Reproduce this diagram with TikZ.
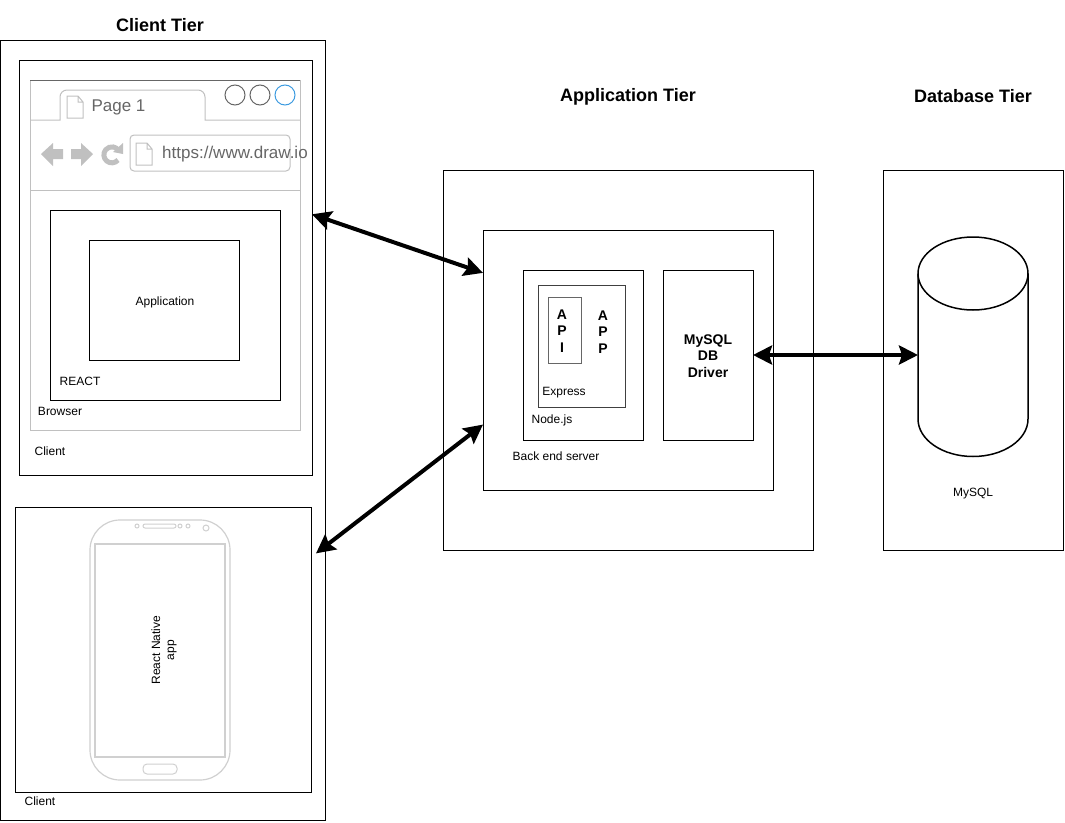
\documentclass[tikz,border=0pt]{standalone}
\usepackage{fontspec}
\setmainfont{Liberation Sans}
\usetikzlibrary{arrows.meta}
\definecolor{sketchgray}{HTML}{C0C0C0}
\definecolor{phonegray}{HTML}{D0D0D0}
\definecolor{tabtext}{HTML}{666666}
\definecolor{urlblue}{HTML}{3D9BE0}
\tikzset{
	box/.style={draw,line width=1pt,inner sep=0pt,outer sep=0pt},
	small/.style={font=\fontsize{12}{14}\selectfont,inner sep=0pt},
	title/.style={font=\fontsize{18}{21}\bfseries\selectfont,inner sep=0pt},
	stack/.style={font=\fontsize{14}{16.5}\bfseries\selectfont,inner sep=0pt,align=center},
	link/.style={line width=4pt,{Stealth[length=19pt,width=19pt,inset=3pt]}-{Stealth[length=19pt,width=19pt,inset=3pt]}},
	sketch/.style={draw=sketchgray,line width=1pt}
}
\begin{document}
\begin{tikzpicture}[x=1pt,y=-1pt]
	\useasboundingbox (0,0) rectangle (1065,822);
	% plain boxes
	\def\list {clienttier/162.5/430/325/780, browserclient/165.75/267.5/292.5/415, mobileclient/163/649.5/296/285, apptier/628/360/370/380, dbtier/973/360/180/380, backend/628/360/290/260, nodejs/583/355/120/170, driver/708/355/90/170, reactbox/165/305/230/190, application/164.75/300/150/120}  % list elements
	\foreach \u\x\y\w\h in \list
	{	\node[box,minimum width=\w pt,minimum height=\h pt] (\u) at (\x,\y) {};
	}
	\node[box,draw=black!75,minimum width=87pt,minimum height=122pt] (express) at (581.5,346) {};
	\node[box,draw=black!60,minimum width=33pt,minimum height=66pt] (api) at (564.5,330) {};
	%
	% browser window
	\node[box,draw=sketchgray,minimum width=270pt,minimum height=350pt] (browser) at (165,255) {};
	\draw[draw=black!60,line width=1pt] (browser.north west) -- (browser.north east);
	\draw[sketch] (30,120) -- (60,120) -- (60,97) arc (180:270:7) -- (198,90) arc (270:360:7) -- (205,120) -- (300,120);
	\draw[sketch] (30,190) -- (300,190);
	\node[box,draw=black!60,circle,minimum size=20pt] (dotone) at (235,95) {};
	\node[box,draw=black!60,circle,minimum size=20pt] (dottwo) at (260,95) {};
	\node[box,draw=urlblue,circle,minimum size=20pt] (dotthree) at (285,95) {};
	\node[box,draw=sketchgray,rounded corners=4pt,minimum width=160pt,minimum height=36pt] (urlbar) at (210,153) {};
	\foreach \x\y in {67/96, 136/143}
	{	\draw[sketch,shift={(\x,\y)}] (0,0) -- (11,0) -- (16,6) -- (16,22) -- (0,22) -- cycle (11,0) -- (11,6) -- (16,6);
	}
	\fill[sketchgray] (41,154) -- (53,143) -- (53,149) -- (63,149) -- (63,159) -- (53,159) -- (53,166) -- cycle;
	\fill[sketchgray] (93,154) -- (81,143) -- (81,149) -- (71,149) -- (71,159) -- (81,159) -- (81,166) -- cycle;
	\draw[sketchgray,line width=5pt] (118,160) arc (40:320:8);
	\fill[sketchgray] (113,152) -- (123,143) -- (123,154) -- cycle;
	%
	% phone
	\node[box,draw=phonegray,line width=1.2pt,rounded corners=30pt,minimum width=140pt,minimum height=260pt] (phonebody) at (160,650) {};
	\node[box,draw=phonegray,line width=1.2pt,minimum width=130pt,minimum height=213pt] (phonescreen) at (160,650.5) {};
	\node[box,draw=phonegray,rounded corners=2pt,minimum width=33pt,minimum height=4pt] (speaker) at (159.5,526) {};
	\node[box,draw=phonegray,rounded corners=4pt,minimum width=34pt,minimum height=10pt] (homebtn) at (160,769) {};
	\foreach \x\y\r in {137/526/4, 180/526/4, 188/526/4, 206/528/6}
	{	\node[box,draw=phonegray,circle,minimum size=\r pt] at (\x,\y) {};
	}
	%
	% database
	\node[minimum width=110pt,minimum height=220pt,inner sep=0pt,outer sep=0pt] (db) at (973,347) {};
	\draw[line width=1.5pt] (918,273.5) arc[start angle=180,end angle=540,x radius=55,y radius=36.5];
	\draw[line width=1.5pt] (918,273.5) -- (918,419) arc[start angle=180,end angle=0,x radius=55,y radius=37.5] -- (1028,273.5);
	%
	% texts
	\def\titles {tclient/160/25/Client Tier, tapp/628/96.5/Application Tier, tdb/973/96.5/Database Tier}  % list elements
	\foreach \u\x\y\t in \titles
	{	\node[title] (\u) at (\x,\y) {\t};
	}
	\def\labels {lapplication/165/302/Application, lreact/80/381/REACT, lbrowser/60/411/Browser, lclientone/50/451/Client, lclienttwo/40/801/Client, lexpress/564/392.5/Express, lnode/552/420/Node.js, lback/556/456/Back end server, lmysql/973/494/MySQL}  % list elements
	\foreach \u\x\y\t in \labels
	{	\node[small] (\u) at (\x,\y) {\t};
	}
	\node[font=\fontsize{17}{20}\selectfont,text=tabtext,inner sep=0pt] (lpage) at (118.5,107) {Page 1};
	\node[font=\fontsize{17}{20}\selectfont,text=tabtext,inner sep=0pt,anchor=west] (lurl) at (162,154) {https://www.draw.io};
	\node[small,align=center,rotate=90] (lnative) at (164,650) {React Native\\app};
	\node[stack] (lapi) at (562,331) {A\\P\\I};
	\node[stack] (lapp) at (603,332) {A\\P\\P};
	\node[stack] (ldriver) at (708,356) {MySQL\\DB\\Driver};
	%
	% connectors
	\draw[link] (browserclient.20.5) -- (backend.149.6);
	\draw[link] ([xshift=5pt]mobileclient.33.9) -- (backend.204.8);
	\draw[link] (driver.east) -- (driver.east -| db.west);
	%
\end{tikzpicture}
\end{document}
